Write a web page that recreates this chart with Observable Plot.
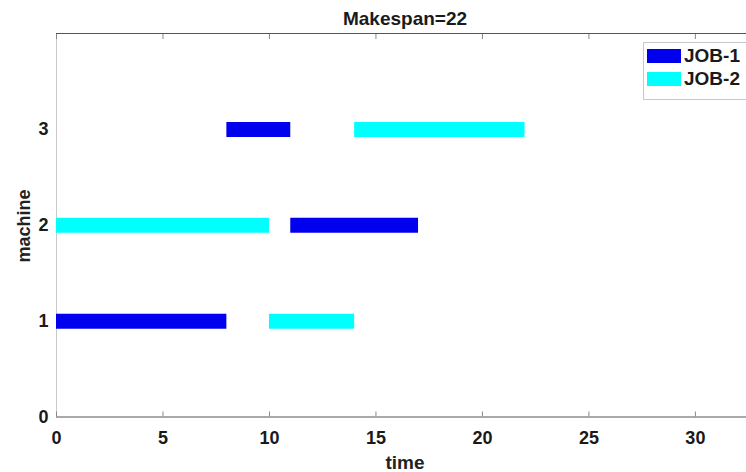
<!DOCTYPE html>
<html>
<head>
<meta charset="utf-8">
<script src="https://cdn.jsdelivr.net/npm/d3@7"></script>
<script src="https://cdn.jsdelivr.net/npm/@observablehq/plot@0.6"></script>
<style>
  html, body { margin: 0; padding: 0; background: #fff; }
  #wrap { position: relative; width: 746px; height: 472px; overflow: hidden; font-family: "Liberation Sans", Arial, sans-serif; }
  #title { position: absolute; left: 0; width: 810px; top: 9px; line-height: 19px; text-align: center; font-weight: bold; font-size: 19px; color: #1a1a1a; }
  #xlabel { position: absolute; left: 0; width: 810px; top: 453px; line-height: 19px; text-align: center; font-weight: bold; font-size: 19px; color: #222; }
  #ylabel { position: absolute; left: 24px; top: 226px; line-height: 19px; transform: translate(-50%, -50%) rotate(-90deg); font-weight: bold; font-size: 18px; color: #222; white-space: nowrap; }
  #legend { position: absolute; left: 643px; top: 42px; width: 120px; height: 56px; border: 1px solid #c8c8c8; background: #fff; }
  .item { position: absolute; left: 3px; height: 16px; display: flex; align-items: center; font-weight: bold; font-size: 19px; color: #1a1a1a; }
  .sw { width: 34px; height: 14px; margin-right: 3px; }
</style>
</head>
<body>
<div id="wrap">
  <div id="chart"></div>
  <div id="title">Makespan=22</div>
  <div id="xlabel">time</div>
  <div id="ylabel">machine</div>
  <div id="legend"></div>
</div>
<script>
const jobs = ["JOB-1", "JOB-2"];
const jobColors = ["#0000ee", "#00ffff"];
const opJob = ["JOB-1", "JOB-1", "JOB-1", "JOB-2", "JOB-2", "JOB-2"];
const opMachine = [1, 2, 3, 2, 1, 3];
const opStart = [0, 11, 8, 0, 10, 14];
const opEnd = [8, 17, 11, 10, 14, 22];
const xTicks = [0, 5, 10, 15, 20, 25, 30];
const yTicks = [0, 1, 2, 3];

const ops = opJob.map((job, i) => ({job, machine: opMachine[i], start: opStart[i], end: opEnd[i]}));

const plot = Plot.plot({
  width: 746,
  height: 472,
  marginLeft: 56,
  marginRight: 0,
  marginTop: 33,
  marginBottom: 55.5,
  style: {fontFamily: "Liberation Sans, Arial, sans-serif", background: "transparent"},
  x: {domain: [0, 32.4]},
  y: {domain: [0, 4]},
  color: {domain: jobs, range: jobColors},
  marks: [
    Plot.ruleX([0], {stroke: "#c8c8c8", strokeWidth: 1}),
    Plot.ruleY([0], {stroke: "#555", strokeWidth: 1}),
    Plot.ruleY([4], {stroke: "#555", strokeWidth: 1}),
    Plot.ruleY(ops, {y: "machine", x1: "start", x2: "end", stroke: "job", strokeWidth: 15, strokeLinecap: "butt"}),
    Plot.axisX({anchor: "bottom", ticks: xTicks, tickSize: -5, tickPadding: 19, label: null,
      fontSize: 18, fontWeight: "bold", stroke: "#888", color: "#1a1a1a"}),
    Plot.axisX({anchor: "top", ticks: xTicks, tickSize: -5, tickFormat: () => "", label: null, stroke: "#888"}),
    Plot.axisY({anchor: "left", ticks: yTicks, tickFormat: d3.format("d"), tickSize: 0, tickPadding: 8, label: null,
      fontSize: 18, fontWeight: "bold", color: "#1a1a1a"})
  ]
});
document.getElementById("chart").appendChild(plot);

const legend = document.getElementById("legend");
jobs.forEach((j, i) => {
  const it = document.createElement("div");
  it.className = "item";
  it.style.top = (5 + i * 23) + "px";
  const sw = document.createElement("div");
  sw.className = "sw";
  sw.style.background = jobColors[i];
  const tx = document.createElement("span");
  tx.textContent = j;
  it.appendChild(sw);
  it.appendChild(tx);
  legend.appendChild(it);
});
</script>
</body>
</html>
